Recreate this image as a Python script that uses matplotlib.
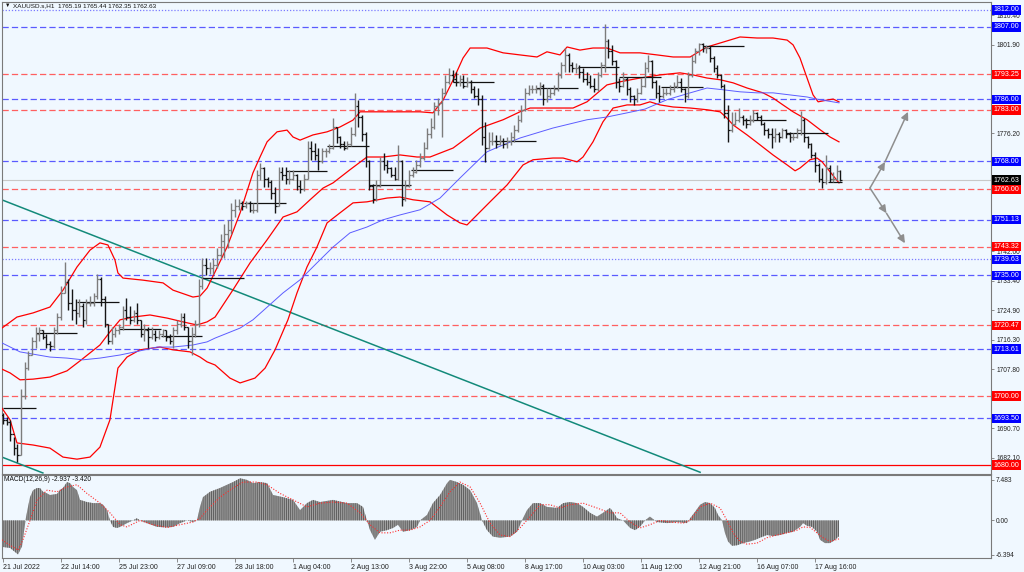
import matplotlib
matplotlib.use("Agg")
import matplotlib.pyplot as plt
import numpy as np

plt.rcParams['font.family'] = ['Liberation Sans', 'DejaVu Sans']
plt.rcParams['hatch.linewidth'] = 0.7

BG = '#f0f8ff'

# header values of the last bar
symbol = 'XAUUSD.s,H1'
last_ohlc = [1765.19, 1765.44, 1762.35, 1762.63]
macd_title = 'MACD(12,26,9) -2.937 -3.420'

# 2-hour bars, x = trading hour counted from the first bar (21 Jul 2022)
first_open = 1694.5
bar_high = [
    1695, 1694, 1693, 1688, 1686, 1702, 1710, 1713, 1717, 1720,
    1720, 1719, 1718, 1716, 1720, 1724, 1732, 1739, 1734, 1731,
    1728, 1728, 1727, 1728, 1729, 1730, 1735.5, 1734.5, 1729, 1721,
    1720, 1720, 1721, 1726, 1728.5, 1726, 1725, 1727, 1722, 1721,
    1720, 1720, 1719, 1719, 1719.5, 1719, 1718, 1720, 1722, 1724,
    1724, 1720, 1720, 1722, 1734, 1740, 1740, 1739, 1740, 1743,
    1747, 1750, 1751, 1756, 1757, 1757, 1756.5, 1756.5, 1756.5, 1756,
    1765.5, 1767.5, 1766.5, 1763.5, 1762.5, 1760.5, 1766.5, 1766.5, 1766.5, 1765.5,
    1765.5, 1764.5, 1762.6, 1764.5, 1774, 1774, 1773.5, 1772, 1772, 1772,
    1773, 1780.6, 1778, 1775.5, 1774, 1774, 1778, 1788, 1785.8, 1781.5,
    1776.5, 1768.5, 1761.5, 1762.6, 1769.3, 1770.5, 1768.4, 1766.5, 1766.5, 1772.8,
    1768.5, 1762.6, 1765.5, 1766.5, 1768.4, 1770.5, 1773.6, 1777.7, 1780.6, 1785.2,
    1786.4, 1789.3, 1793, 1795, 1794.5, 1794, 1793, 1793, 1792.5, 1791.5,
    1790, 1789.3, 1787.3, 1779.4, 1776.5, 1776.5, 1775.7, 1775.7, 1774.8, 1775,
    1776.5, 1778.6, 1781.5, 1784.4, 1789.3, 1790.2, 1790.2, 1790.2, 1791, 1790.5,
    1789.3, 1789.3, 1790.2, 1794, 1796.8, 1801, 1799.5, 1796.8, 1796.5, 1796,
    1795, 1794, 1793, 1792.2, 1794, 1796.8, 1808, 1803.5, 1801.8, 1797.5,
    1792.2, 1794, 1792.5, 1789.5, 1787.3, 1789.3, 1792.2, 1796.8, 1798.9, 1797.5,
    1791.5, 1790.2, 1789.3, 1789.3, 1790.2, 1791, 1793, 1792.2, 1789.3, 1794,
    1798.9, 1800.9, 1802.4, 1802.4, 1801.8, 1801.5, 1798.5, 1796, 1793.5, 1790.5,
    1784.4, 1782.3, 1782.3, 1783.5, 1781.5, 1780.6, 1781.5, 1783, 1782.3, 1781.5,
    1779.4, 1777.7, 1777.7, 1777.7, 1776.5, 1777.7, 1777.5, 1776.5, 1776.3, 1777.7,
    1782.5, 1780.5, 1775.5, 1773.5, 1770.7, 1767.5, 1766, 1769.9, 1767, 1765,
    1767, 1765.44]
bar_low = [
    1692, 1691.5, 1687, 1683, 1681, 1683, 1699, 1707.5, 1712, 1714,
    1716, 1716.5, 1714, 1713, 1714, 1718, 1722, 1730, 1725, 1722,
    1721, 1723, 1720, 1721, 1726, 1726, 1728, 1726, 1720, 1715,
    1715, 1717, 1718, 1719, 1722, 1721, 1721.5, 1721, 1717, 1716,
    1714, 1716.5, 1716, 1716.5, 1717, 1716, 1715, 1714, 1718, 1720,
    1719, 1714, 1712, 1717, 1720, 1731, 1735, 1735.5, 1735.5, 1737,
    1740, 1740, 1743, 1747, 1752, 1754, 1754, 1754.5, 1753.5, 1753,
    1753.5, 1762.5, 1760.5, 1760.5, 1757, 1753, 1755, 1762.5, 1761.5, 1761.5,
    1762.5, 1759.7, 1759, 1759.5, 1763, 1768.4, 1768.4, 1765.5, 1767.5, 1769.3,
    1770.5, 1771.5, 1773.4, 1772, 1771.3, 1771.5, 1772.5, 1775.5, 1778, 1774,
    1766.4, 1759.7, 1756, 1756.5, 1760.5, 1765.5, 1764.6, 1763.5, 1762.6, 1762.6,
    1755, 1756.5, 1760.5, 1763.5, 1764.6, 1766.4, 1768.5, 1771.5, 1774.8, 1777.5,
    1781.5, 1775, 1787.3, 1790.5, 1791, 1790, 1790, 1789.3, 1789.6, 1788,
    1786.4, 1784.4, 1772.8, 1767.8, 1771.5, 1772.8, 1772, 1772.8, 1772, 1772,
    1772.8, 1773.6, 1776.5, 1779.5, 1782.5, 1787.3, 1788, 1788, 1787.3, 1784.4,
    1785.2, 1786.4, 1787.3, 1788.5, 1792.2, 1794, 1794, 1794, 1793.7, 1792.2,
    1791, 1790.2, 1789.3, 1788.1, 1788.5, 1792.5, 1794, 1798, 1796, 1789.3,
    1788.1, 1789.5, 1787.3, 1785.2, 1784.4, 1785.2, 1787.5, 1789.5, 1794, 1789.3,
    1786.4, 1785.2, 1786.4, 1787.3, 1787.3, 1788.1, 1789.3, 1788.1, 1785.2, 1786.5,
    1792.5, 1796.5, 1798.9, 1799.7, 1799.4, 1796.8, 1794, 1792.2, 1789.3, 1780.6,
    1773.6, 1776.5, 1778.6, 1779.4, 1778.6, 1777.7, 1778.6, 1779.4, 1780, 1778.6,
    1775.7, 1774.8, 1772, 1773.6, 1773.6, 1774.8, 1774.8, 1773.6, 1774.2, 1774.8,
    1775.7, 1773.6, 1772, 1769, 1765, 1762, 1760.3, 1761.5, 1762, 1762,
    1762.5, 1762.35]
bar_close = [
    1693, 1692.5, 1689, 1685, 1683, 1700, 1708, 1712, 1716, 1718,
    1719, 1717, 1715, 1714.5, 1719, 1723, 1730, 1733, 1727, 1725,
    1724, 1726, 1722, 1727, 1727, 1729, 1734, 1728, 1721, 1716,
    1718, 1719, 1720, 1725, 1723, 1722, 1724, 1722, 1718, 1719,
    1717, 1718, 1717, 1718, 1719, 1717, 1716, 1719, 1721, 1723,
    1720, 1716, 1718, 1721, 1732, 1738, 1737, 1737, 1738, 1741,
    1745, 1747, 1748, 1754, 1755, 1756, 1755, 1756, 1754, 1754,
    1764, 1766, 1763, 1762, 1759, 1755, 1765, 1764, 1763, 1763,
    1764, 1761, 1760, 1763, 1772, 1771, 1770, 1768, 1771, 1771,
    1772, 1778, 1775, 1773, 1772, 1773, 1776, 1784, 1781, 1776,
    1768, 1761, 1757, 1761, 1768, 1767, 1766, 1764, 1763, 1768,
    1757, 1761, 1764, 1765, 1767, 1769, 1772, 1776, 1778, 1784,
    1785, 1788, 1791, 1793, 1792, 1791, 1792, 1790, 1791, 1789,
    1787, 1786, 1775, 1772, 1774, 1774, 1773, 1774, 1773, 1774,
    1775, 1777, 1780, 1783, 1788, 1789, 1789, 1789, 1790, 1786,
    1787, 1788, 1789, 1793, 1796, 1799, 1796, 1795, 1795, 1794,
    1792, 1791, 1790, 1789, 1793, 1796, 1803, 1800, 1797, 1791,
    1790, 1792, 1789, 1787, 1786, 1788, 1790, 1795, 1797, 1791,
    1788, 1787, 1788, 1788, 1789, 1790, 1791, 1789, 1787, 1793,
    1797, 1800, 1802, 1801, 1801, 1798, 1795, 1793, 1790, 1782,
    1777, 1779, 1780, 1781, 1780, 1779, 1780, 1782, 1781, 1779,
    1777, 1776, 1775, 1776, 1775, 1777, 1776, 1775, 1775, 1777,
    1780, 1775, 1773, 1770, 1767, 1763, 1762, 1766, 1763, 1763,
    1765.19, 1762.63]

# Bollinger bands (20, 2) and the blue moving average, as (hour, price)
upper_band = [
    (-0.6, 1719.7), (7.7, 1722.9), (16.6, 1724.1), (25.9, 1725.8), (33.1, 1730.7),
    (40.8, 1737.4), (48.0, 1742.3), (53.5, 1744.4), (57.9, 1743.8), (61.8, 1739.4),
    (63.4, 1735.7), (66.2, 1734.2), (77.2, 1733.6), (88.3, 1732.8), (93.8, 1730.7),
    (104.8, 1728.7), (108.7, 1729.0), (112.6, 1731.3), (117.0, 1736.0), (123.6, 1743.2),
    (130.8, 1753.1), (137.9, 1764.7), (141.8, 1769.3), (145.7, 1773.7), (151.2, 1776.6),
    (156.7, 1777.1), (160.0, 1775.1), (163.9, 1774.2), (171.0, 1775.7), (178.8, 1776.6),
    (185.9, 1778.0), (193.1, 1780.0), (197.0, 1782.4), (219.0, 1782.4), (230.1, 1782.4),
    (237.2, 1782.1), (242.8, 1785.8), (248.3, 1791.6), (253.8, 1798.0), (257.7, 1800.9),
    (267.0, 1800.9), (275.9, 1799.5), (285.2, 1798.9), (294.6, 1798.3), (300.1, 1799.8),
    (307.3, 1798.9), (311.2, 1801.2), (318.3, 1800.3), (325.5, 1800.9), (333.2, 1800.9),
    (340.4, 1799.5), (351.4, 1799.5), (360.8, 1798.9), (369.7, 1798.3), (379.1, 1798.3),
    (382.9, 1799.5), (388.4, 1801.2), (397.2, 1802.6), (406.6, 1804.1), (416.0, 1803.8),
    (424.8, 1803.8), (432.6, 1803.2), (435.9, 1801.8), (439.7, 1798.0), (443.6, 1792.2),
    (446.9, 1787.3), (449.7, 1785.3), (454.6, 1785.8), (458.0, 1786.1), (461.2, 1785.3)]
middle_band = [
    (-0.6, 1707.8), (3.9, 1706.7), (9.4, 1704.7), (16.6, 1704.9), (25.9, 1705.5),
    (35.3, 1707.3), (42.5, 1710.2), (48.0, 1712.5), (53.5, 1714.8), (59.0, 1718.6),
    (64.6, 1722.1), (71.7, 1722.9), (81.1, 1723.5), (90.5, 1722.6), (99.3, 1721.5),
    (107.0, 1720.6), (112.6, 1721.5), (117.0, 1722.9), (126.9, 1730.8), (136.3, 1738.6),
    (145.7, 1745.3), (154.5, 1751.9), (162.2, 1753.4), (169.4, 1756.9), (176.6, 1760.3),
    (182.1, 1761.8), (191.4, 1765.6), (200.8, 1769.3), (209.7, 1769.3), (219.0, 1769.9),
    (228.4, 1769.3), (235.6, 1769.3), (248.3, 1771.9), (263.2, 1777.7), (275.9, 1780.1),
    (285.2, 1782.4), (290.8, 1783.5), (314.5, 1783.5), (322.2, 1785.3), (333.2, 1790.2),
    (340.4, 1791.1), (351.4, 1792.2), (362.5, 1793.1), (373.5, 1793.7), (380.7, 1793.1),
    (388.4, 1792.2), (395.6, 1791.7), (402.8, 1790.8), (410.5, 1789.3), (419.3, 1787.9),
    (424.8, 1786.4), (430.3, 1784.4), (435.9, 1782.4), (443.6, 1780.1), (450.8, 1777.2),
    (456.3, 1775.1), (461.2, 1773.7)]
lower_band = [
    (-0.6, 1696.5), (3.9, 1693.1), (7.7, 1686.4), (16.6, 1685.8), (25.9, 1684.9),
    (33.1, 1682.3), (40.8, 1681.7), (48.0, 1682.3), (53.5, 1685.2), (59.0, 1693.1),
    (61.8, 1702.6), (63.4, 1708.1), (68.4, 1711.3), (75.6, 1713.4), (86.6, 1714.2),
    (93.8, 1713.4), (103.2, 1712.8), (108.7, 1711.3), (112.6, 1709.9), (117.0, 1709.0),
    (125.2, 1705.2), (130.8, 1703.8), (139.0, 1705.2), (144.6, 1708.1), (150.1, 1713.4),
    (157.2, 1722.1), (162.2, 1729.9), (167.7, 1737.4), (173.2, 1743.2), (178.8, 1750.2),
    (185.9, 1753.1), (193.1, 1756.0), (200.8, 1756.3), (211.9, 1757.4), (219.0, 1757.7),
    (226.2, 1756.9), (235.6, 1756.3), (245.0, 1752.5), (252.1, 1750.2), (256.0, 1749.6),
    (261.5, 1752.5), (268.7, 1756.3), (278.1, 1761.2), (286.9, 1767.0), (292.4, 1768.5),
    (303.4, 1769.0), (309.0, 1769.0), (316.7, 1767.9), (320.0, 1769.3), (325.5, 1773.7),
    (331.0, 1779.5), (336.6, 1783.5), (344.3, 1784.4), (351.4, 1784.4), (356.9, 1785.3),
    (362.5, 1784.4), (369.7, 1783.8), (379.1, 1783.5), (388.4, 1783.0), (395.6, 1782.4),
    (399.4, 1780.6), (402.8, 1778.6), (410.5, 1775.7), (417.7, 1772.8), (424.8, 1769.9),
    (432.6, 1767.0), (437.0, 1765.3), (439.7, 1766.1), (445.2, 1768.5), (449.1, 1769.0),
    (451.9, 1767.9), (456.3, 1765.0), (461.2, 1761.8)]
moving_avg = [
    (-0.6, 1715.4), (9.4, 1712.8), (25.9, 1711.3), (35.3, 1711.0), (44.1, 1710.5),
    (53.5, 1711.0), (64.6, 1711.9), (75.6, 1713.1), (85.0, 1714.2), (93.8, 1714.2),
    (104.8, 1714.8), (112.6, 1715.7), (117.0, 1716.8), (130.8, 1719.7), (137.9, 1722.1),
    (154.5, 1729.9), (163.9, 1733.7), (173.2, 1738.6), (182.1, 1743.2), (191.4, 1747.3),
    (200.8, 1749.0), (209.7, 1751.1), (219.0, 1752.5), (230.1, 1754.0), (241.1, 1757.4),
    (252.1, 1763.2), (267.0, 1770.8), (275.9, 1772.8), (285.2, 1774.8), (303.4, 1777.7),
    (322.2, 1780.1), (333.2, 1780.9), (344.3, 1782.1), (354.2, 1783.2), (366.3, 1785.9),
    (379.1, 1787.9), (388.4, 1789.3), (397.2, 1788.8), (406.6, 1788.2), (416.0, 1787.9),
    (424.8, 1787.9), (434.2, 1787.3), (443.6, 1786.7), (450.8, 1785.9), (461.2, 1785.0)]

# MACD histogram and signal, as (hour, value)
macd_hist = [
    (-0.6, -4.9), (3.9, -5.1), (8.3, -6.3), (10.5, -4.8), (11.6, -2.0), (12.7, 0.6),
    (13.8, 2.5), (14.9, 4.3), (16.6, 5.6), (18.8, 6.0), (20.4, 6.0), (22.1, 5.3),
    (24.3, 5.0), (25.9, 4.7), (29.8, 4.9), (31.4, 5.6), (33.1, 6.0), (35.3, 7.1),
    (37.0, 6.9), (38.6, 6.2), (40.8, 5.6), (42.5, 3.8), (46.3, 3.4), (49.7, 3.2),
    (53.5, 3.2), (55.2, 2.9), (57.4, 1.9), (59.0, 0.0), (60.7, -1.2), (62.9, -1.4),
    (64.6, -1.2), (68.4, -0.5), (71.7, 0.0), (73.9, 0.4), (75.6, 0.0), (79.4, -0.5),
    (85.0, -1.2), (90.5, -1.3), (93.8, -1.2), (97.7, -0.5), (101.5, 0.0), (104.8, -0.3),
    (107.0, 0.0), (108.7, 2.5), (110.3, 4.3), (114.2, 5.3), (119.7, 6.0), (126.9, 7.1),
    (130.8, 7.8), (134.6, 7.5), (137.9, 6.9), (141.8, 7.1), (145.7, 6.9), (149.0, 4.7),
    (154.5, 4.3), (160.0, 3.8), (163.9, 1.9), (167.7, 3.2), (171.0, 3.8), (174.9, 3.4),
    (182.1, 3.8), (189.8, 3.2), (195.3, 3.2), (198.6, 2.5), (200.8, 0.0), (202.5, -1.8),
    (205.2, -3.6), (208.0, -2.1), (211.9, -1.8), (215.2, -1.4), (217.9, -0.8), (220.7, -2.1),
    (224.6, -1.8), (228.4, -1.2), (230.1, 0.0), (233.9, 1.0), (237.2, 3.2), (241.1, 4.7),
    (245.0, 6.9), (246.6, 7.5), (250.5, 7.1), (253.8, 6.6), (257.7, 5.6), (261.5, 3.2),
    (264.3, 0.0), (267.0, -1.8), (270.3, -3.0), (274.2, -3.2), (279.7, -3.0), (283.6, -2.1),
    (286.3, 0.0), (289.1, 1.9), (292.4, 3.2), (296.3, 3.2), (300.1, 2.5), (305.7, 2.3),
    (309.0, 3.2), (312.8, 3.4), (316.7, 3.2), (320.0, 2.5), (323.9, 1.4), (327.7, 0.7),
    (331.0, 1.4), (334.9, 2.3), (336.6, 1.6), (338.8, 0.4), (342.1, 0.0), (346.0, -1.4),
    (348.7, -1.8), (351.4, -1.2), (354.2, 0.0), (356.9, 0.7), (360.8, -0.3), (366.3, -0.5),
    (371.9, -0.3), (377.4, -0.5), (379.1, 0.4), (381.8, 1.6), (384.6, 2.9), (387.3, 3.4),
    (390.1, 3.2), (392.8, 2.3), (394.5, 1.0), (396.7, 0.0), (398.3, -2.3), (400.0, -3.9),
    (402.2, -4.7), (405.0, -4.6), (408.3, -4.2), (412.1, -3.9), (414.9, -3.6), (417.7, -3.2),
    (421.5, -2.7), (424.8, -2.9), (428.7, -2.7), (432.6, -2.3), (435.9, -2.1), (439.7, -1.2),
    (441.4, -0.5), (443.6, -1.0), (446.3, -1.2), (449.1, -2.1), (450.8, -3.6), (453.5, -4.2),
    (456.3, -4.2), (459.0, -3.6), (461.2, -2.937)]
macd_signal = [
    (-0.6, -3.6), (3.9, -4.6), (8.3, -5.5), (11.0, -3.6), (14.9, 0.0), (18.8, 3.8),
    (24.3, 5.6), (29.8, 5.3), (35.3, 6.2), (40.8, 6.6), (46.3, 5.0), (53.5, 3.2),
    (59.0, 1.4), (64.6, -0.8), (68.4, -1.2), (75.6, 0.0), (82.8, -0.8), (90.5, -1.3),
    (97.7, -0.8), (104.8, -0.3), (108.7, 0.4), (112.6, 1.9), (119.7, 4.3), (126.9, 6.0),
    (132.4, 7.1), (140.1, 7.1), (145.7, 6.6), (152.8, 5.0), (160.0, 3.8), (167.7, 2.5),
    (174.9, 3.2), (182.1, 3.4), (189.8, 3.2), (197.0, 1.4), (202.5, -0.8), (208.0, -2.3),
    (213.5, -2.3), (219.0, -1.8), (224.6, -1.8), (230.1, -1.2), (235.6, 0.0), (241.1, 2.5),
    (246.6, 5.3), (252.1, 7.1), (257.7, 6.2), (263.2, 3.2), (268.7, -0.5), (274.2, -2.7),
    (279.7, -3.0), (285.2, -1.4), (290.8, 0.7), (296.3, 2.9), (301.8, 2.9), (307.3, 2.3),
    (312.8, 2.9), (320.0, 3.2), (327.7, 2.3), (334.9, 1.4), (340.4, 1.4), (346.0, -0.3),
    (351.4, -1.4), (356.9, -0.8), (362.5, 0.0), (368.0, -0.3), (375.2, -0.5), (379.1, 0.0),
    (384.6, 2.5), (390.1, 3.2), (395.6, 2.3), (399.4, 0.0), (402.8, -2.3), (406.6, -3.9),
    (410.5, -4.4), (416.0, -4.2), (421.5, -3.2), (427.0, -2.7), (432.6, -2.3), (438.1, -1.8),
    (441.4, -1.2), (445.2, -1.3), (449.1, -2.3), (452.4, -3.2), (456.3, -3.9), (461.2, -3.42)]

# daily open lines
day_start = [0, 18, 41, 64, 87, 110, 133, 156, 179, 202, 225, 248, 271, 294, 317,
             340, 363, 386, 409, 432, 455]
day_open = [1696.5, 1718.3, 1727.3, 1719.4, 1717.4, 1734.2, 1756.0, 1765.2, 1772.5,
            1761.2, 1765.5, 1791.0, 1774.0, 1789.3, 1795.4, 1792.5, 1789.6, 1801.5,
            1780.0, 1776.3, 1762.0]

# horizontal levels drawn on the chart
levels = [1812.00, 1807.00, 1793.25, 1786.00, 1783.00, 1768.00, 1760.00, 1751.13,
          1743.32, 1739.63, 1735.00, 1720.47, 1713.61, 1700.00, 1693.50, 1680.00]
level_kind = ['blue:', 'blue', 'red', 'blue', 'red', 'blue', 'red', 'blue',
              'red', 'blue:', 'blue', 'red', 'blue', 'red', 'blue', 'red-']

# trend lines (hour, price)
trend_upper = [(-1.7, 1757.1), (384.6, 1677.9)]
trend_lower = [(-0.6, 1682.3), (22.0, 1677.7)]

# scenario arrows (hour, price)
arrow_start = (478.3, 1760.3)
arrow_up = [(486.6, 1767.9), (499.3, 1782.4)]
arrow_down = [(487.4, 1753.0), (497.6, 1744.3)]

# price scale labels left visible beside the level boxes
price_ticks = [1682.10, 1690.70, 1707.80, 1716.30, 1724.90, 1733.40, 1742.00,
               1776.20, 1801.90, 1810.40]
time_ticks = [0, 32, 64, 96, 128, 160, 192, 224, 256, 288, 320, 352, 384, 416, 448]
time_labels = ['21 Jul 2022', '22 Jul 14:00', '25 Jul 23:00', '27 Jul 09:00',
               '28 Jul 18:00', '1 Aug 04:00', '2 Aug 13:00', '3 Aug 22:00',
               '5 Aug 08:00', '8 Aug 17:00', '10 Aug 03:00', '11 Aug 12:00',
               '12 Aug 21:00', '16 Aug 07:00', '17 Aug 16:00']

W, H = 1024, 572
fig = plt.figure(figsize=(W / 100, H / 100), dpi=100, facecolor=BG)
ax = fig.add_axes([2 / W, 1 - 473.5 / H, 988.5 / W, 471.5 / H], facecolor=BG)
ax2 = fig.add_axes([2 / W, 1 - 558 / H, 988.5 / W, 83.5 / H], facecolor=BG)

xlim = (-0.55, 544.8)
ax.set_xlim(*xlim)
ax2.set_xlim(*xlim)
ax.set_ylim(1677.54, 1814.24)
ax2.set_ylim(-6.96, 8.5)

# levels
style = {'blue': ('#5a5aff', (0, (5, 2.5))), 'blue:': ('#7a7aff', (0, (1, 1.5))),
         'red': ('#ff6060', (0, (5, 2.5))), 'red-': ('#ff0000', '-')}
for lv, kind in zip(levels, level_kind):
    c, ls = style[kind]
    ax.axhline(lv, color=c, ls=ls, lw=0.9, zorder=1)
ax.axhline(last_ohlc[3], color='#c8c8c8', lw=0.8, zorder=1)

# trend lines
for tl in (trend_upper, trend_lower):
    tx, ty = zip(*tl)
    ax.plot(tx, ty, color='#138a7a', lw=1.1, zorder=2)

# bands and moving average
for band in (upper_band, middle_band, lower_band):
    bx, by = zip(*band)
    ax.plot(bx, by, color='#ff0000', lw=0.9, zorder=3)
mx, my = zip(*moving_avg)
ax.plot(mx, my, color='#5c5cff', lw=0.7, zorder=3)

# daily open segments
ends = day_start[1:] + [len(bar_close) * 2 - 1]
ax.hlines(day_open, day_start, ends, colors='#111111', lw=0.9, zorder=4)

# price bars
highs = np.array(bar_high)
lows = np.array(bar_low)
closes = np.array(bar_close)
opens = np.concatenate([[first_open], closes[:-1]])
bar_t = np.arange(len(closes)) * 2.0
colors = np.where(closes >= opens, '#7c7c7c', '#151515')
ax.vlines(bar_t, lows, highs, colors=colors, lw=1.0, zorder=5)
ax.hlines(opens, bar_t - 1.0, bar_t, colors=colors, lw=0.9, zorder=5)
ax.hlines(closes, bar_t, bar_t + 1.0, colors=colors, lw=0.9, zorder=5)

# arrows
aprops = dict(arrowstyle='-|>,head_length=0.45,head_width=0.22', color='#8e8e8e',
              lw=1.1, shrinkA=0, shrinkB=0, mutation_scale=10)
for path in (arrow_up, arrow_down):
    prev = arrow_start
    for pt in path:
        ax.annotate('', xy=pt, xytext=prev, arrowprops=aprops, zorder=6)
        prev = pt

# axes styling
for a in (ax, ax2):
    for sp in a.spines.values():
        sp.set_color('#7a7a7a')
        sp.set_linewidth(0.8)
    a.yaxis.tick_right()
    a.tick_params(axis='y', labelsize=4.8, length=2, width=0.6, pad=2,
                  colors='#7a7a7a', labelcolor='#222222')

ax.set_xticks([])
ax.set_yticks(price_ticks)
ax.set_yticklabels([f'{v:.2f}' for v in price_ticks])

ax2.set_yticks([7.483, 0.0, -6.394])
ax2.set_yticklabels(['7.483', '0.00', '-6.394'])
ax2.set_xticks(time_ticks)
ax2.set_xticklabels(time_labels, fontsize=5, color='#222222')
ax2.tick_params(axis='x', length=3, width=0.6, pad=1.5, colors='#7a7a7a', labelcolor='#222222')
for lab in ax2.get_xticklabels():
    lab.set_horizontalalignment('left')

# level labels on the price scale
box_col = {'blue': '#0000ff', 'blue:': '#0000ff', 'red': '#ff0000', 'red-': '#ff0000'}
for lv, kind in zip(levels, level_kind):
    ax.annotate(f'{lv:.2f}', xy=(1, lv), xycoords=('axes fraction', 'data'),
                xytext=(3, 0), textcoords='offset pixels', ha='left', va='center',
                fontsize=5.1, color='white', annotation_clip=False, zorder=10,
                bbox=dict(boxstyle='square,pad=0.18', fc=box_col[kind], ec='none'))
ax.annotate(f'{last_ohlc[3]:.2f}', xy=(1, last_ohlc[3]), xycoords=('axes fraction', 'data'),
            xytext=(3, 0), textcoords='offset pixels', ha='left', va='center',
            fontsize=5.1, color='white', annotation_clip=False, zorder=10,
            bbox=dict(boxstyle='square,pad=0.18', fc='black', ec='none'))

# headers
ax.text(0.003, 0.997, '\u25bc', transform=ax.transAxes, fontsize=4, va='top',
        ha='left', color='#111111', zorder=10)
ax.text(0.011, 0.997, symbol + '  ' + ' '.join(f'{v:.2f}' for v in last_ohlc),
        transform=ax.transAxes, fontsize=4.6, va='top', ha='left', color='#111111', zorder=10)
ax2.text(0.002, 0.98, macd_title, transform=ax2.transAxes, fontsize=4.8,
         va='top', ha='left', color='#111111')

# MACD panel
hx, hv = zip(*macd_hist)
ax2.fill_between(hx, 0, hv, facecolor='#a2a2a2', edgecolor='#5e5e5e',
                 hatch='|' * 8, linewidth=0, zorder=2)
sx, sv = zip(*macd_signal)
ax2.plot(sx, sv, color='#ff2a2a', lw=0.8, ls=(0, (1, 1.5)), zorder=3)

fig.savefig('out.png', dpi=100, facecolor=BG)
